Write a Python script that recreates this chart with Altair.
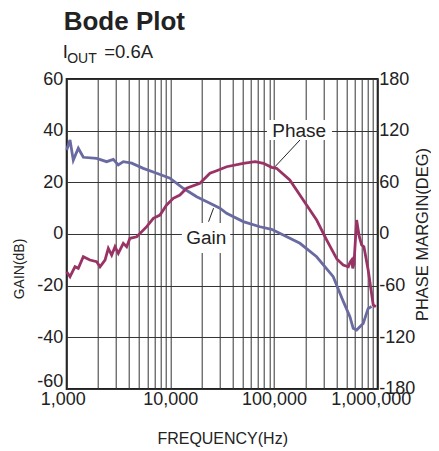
import altair as alt
import pandas as pd

# ---------------- data ----------------
gain_freq = [1000, 1076, 1158, 1294, 1446, 1946, 2431, 2814, 3144, 3515, 4236,
             5480, 7380, 9910, 13310, 17940, 24090, 30070, 34890, 50470, 73130,
             94830, 122700, 177800, 257600, 372400, 464700, 539500, 580300,
             626300, 724900, 809500, 873300]
gain_db = [32.5, 36.4, 28.6, 33.2, 29.7, 29.3, 28.0, 28.9, 26.7, 28.0, 27.4,
           25.4, 23.5, 21.6, 17.7, 14.4, 11.9, 10.0, 8.0, 4.8, 2.8,
           1.8, -0.4, -3.6, -8.8, -16.5, -26.0, -32.0, -36.5,
           -37.2, -34.6, -28.8, -28.1]

phase_freq = [1000, 1076, 1203, 1294, 1446, 1676, 1946, 2095, 2342, 2520, 2716,
              2926, 3144, 3515, 3789, 4077, 4736, 5913, 6851, 7935, 9210, 10670,
              12360, 14350, 19280, 24090, 27960, 34890, 50470, 65790, 79060,
              94830, 105700, 141900, 191300, 257600, 322400, 403400, 464700,
              521000, 540000, 561100, 575000, 590900, 626300, 664500, 700300,
              736400, 809500, 905600, 960000]
phase_deg = [-43.8, -49.6, -38.0, -39.9, -26.4, -30.2, -32.2, -38.0, -30.2, -16.6, -24.4,
             -14.8, -22.4, -10.8, -14.8, -5.0, -3.2, 8.5, 18.2, 22.0, 33.7, 41.4,
             45.3, 53.1, 58.9, 70.5, 73.5, 78.1, 82.1, 84.0, 82.1,
             77.4, 76.3, 62.7, 39.5, 16.2, -7.0, -29.0, -36.0,
             -38.0, -33.0, -30.2, -40.0, -34.0, 16.2, -3.2, -12.8,
             -14.8, -41.8, -82.5, -84.5]

freq_ticks = [1000, 2000, 3000, 4000, 5000, 6000, 7000, 8000, 9000,
              10000, 20000, 30000, 40000, 50000, 60000, 70000, 80000, 90000,
              100000, 200000, 300000, 400000, 500000, 600000, 700000, 800000, 900000,
              1000000]
freq_label_ticks = [1000, 10000, 100000, 1000000]
gain_ticks = [-60, -40, -20, 0, 20, 40, 60]
phase_ticks = [-180, -120, -60, 0, 60, 120, 180]

title_text = ["Bode Plot"]
sub_main = ["I"]
sub_script = ["OUT"]
sub_rest = ["=0.6A"]
gain_axis_title = ["GAIN(dB)"]

label_text = ["Phase", "Gain"]
label_freq = [175000, 22200]
label_gain = [39.7, -1.5]
box_f1 = [85500, 12900]
box_f2 = [363000, 37800]
box_g1 = [36.4, -7.4]
box_g2 = [44.1, 4.3]
lead_f1 = [178000, 23350]
lead_f2 = [102000, 26090]
lead_g1 = [36.4, 4.75]
lead_g2 = [26.0, 10.0]

# ---------------- tables ----------------
gain_df = pd.DataFrame({"f": gain_freq, "v": gain_db})
phase_df = pd.DataFrame({"f": phase_freq, "v": phase_deg})
lab_df = pd.DataFrame({"t": label_text, "f": label_freq, "g": label_gain})
box_df = pd.DataFrame({"f1": box_f1, "f2": box_f2, "g1": box_g1, "g2": box_g2})
lead_df = pd.DataFrame({"f1": lead_f1, "f2": lead_f2, "g1": lead_g1, "g2": lead_g2})

FONT = "Liberation Sans"
GAIN_C = "#6a6aa2"
PHASE_C = "#993366"
GRID_C = "#333333"

xscale = alt.Scale(type="log", domain=[1000, 1000000], nice=False)
gscale = alt.Scale(domain=[-60, 60], nice=False, zero=False)
pscale = alt.Scale(domain=[-180, 180], nice=False, zero=False)

lbl_list = "[" + ",".join(str(v) for v in freq_label_ticks) + "]"
x_axis = alt.Axis(
    values=freq_ticks,
    labelExpr=f"indexof({lbl_list}, datum.value) >= 0 ? format(datum.value, ',') : ''",
    grid=True, gridColor=GRID_C, gridWidth=1, gridOpacity=1,
    ticks=False, tickSize=0, domain=False, labelOverlap=False, labelFlush=False,
    labelOffset={"condition": [
        {"test": "datum.value == 1000000", "value": -7},
        {"test": "datum.value == 1000", "value": -4},
    ], "value": 0},
    labelFont=FONT, labelFontSize=18, labelColor="#222", labelPadding=2,
    title="FREQUENCY(Hz)", titleFont=FONT, titleFontSize=16,
    titleFontWeight="normal", titleColor="#222", titlePadding=22,
)
g_axis = alt.Axis(
    values=gain_ticks, labelExpr="'' + datum.value",
    grid=True, gridColor=GRID_C, gridWidth=1, gridOpacity=1,
    ticks=False, tickSize=0, domain=False, labelOverlap=False, labelFlush=False,
    labelOffset={"condition": {"test": "datum.value == -60", "value": -7}, "value": 0},
    labelFont=FONT, labelFontSize=18, labelColor="#222", labelPadding=4,
    title=None,
)
p_axis = alt.Axis(
    values=phase_ticks, labelExpr="'' + datum.value", orient="right",
    grid=False, ticks=False, tickSize=0, domain=False, labelOverlap=False,
    labelFlush=False,
    labelFont=FONT, labelFontSize=18, labelColor="#222", labelPadding=1,
    title="PHASE MARGIN(DEG)", titleFont=FONT, titleFontSize=16.5, titleAngle=270,
    titleBaseline="top",
    titleFontWeight="normal", titleColor="#222", titlePadding=0,
)

boxes = alt.Chart(box_df).mark_rect(color="white", opacity=1).encode(
    x=alt.X("f1:Q", scale=xscale, axis=x_axis), x2="f2:Q",
    y=alt.Y("g1:Q", scale=gscale, axis=g_axis), y2="g2:Q",
)
leads = alt.Chart(lead_df).mark_rule(color="#222", strokeWidth=1).encode(
    x=alt.X("f1:Q", scale=xscale, axis=x_axis), x2="f2:Q",
    y=alt.Y("g1:Q", scale=gscale, axis=g_axis), y2="g2:Q",
)
labels = alt.Chart(lab_df).mark_text(
    font=FONT, fontSize=19, color="#222", align="center", baseline="middle"
).encode(
    x=alt.X("f:Q", scale=xscale, axis=x_axis),
    y=alt.Y("g:Q", scale=gscale, axis=g_axis),
    text="t:N",
)

gain_line = alt.Chart(gain_df).mark_line(color=GAIN_C, strokeWidth=2.8).encode(
    x=alt.X("f:Q", scale=xscale, axis=x_axis),
    y=alt.Y("v:Q", scale=gscale, axis=g_axis),
)
phase_line = alt.Chart(phase_df).mark_line(color=PHASE_C, strokeWidth=2.8).encode(
    x=alt.X("f:Q", scale=xscale, axis=x_axis),
    y=alt.Y("v:Q", scale=pscale, axis=p_axis),
)

title = alt.Chart(pd.DataFrame({"t": title_text})).mark_text(
    font=FONT, fontSize=26, fontWeight="bold", color="#222",
    align="left", baseline="alphabetic"
).encode(x=alt.value(-3), y=alt.value(-49.5), text="t:N")
sub1 = alt.Chart(pd.DataFrame({"t": sub_main})).mark_text(
    font=FONT, fontSize=18.5, color="#222", align="left", baseline="alphabetic"
).encode(x=alt.value(-4), y=alt.value(-20.7), text="t:N")
sub2 = alt.Chart(pd.DataFrame({"t": sub_script})).mark_text(
    font=FONT, fontSize=14, color="#222", align="left", baseline="alphabetic"
).encode(x=alt.value(0.5), y=alt.value(-15.7), text="t:N")
sub3 = alt.Chart(pd.DataFrame({"t": sub_rest})).mark_text(
    font=FONT, fontSize=18.5, color="#222", align="left", baseline="alphabetic"
).encode(x=alt.value(37.5), y=alt.value(-20.7), text="t:N")
gtitle = alt.Chart(pd.DataFrame({"t": gain_axis_title})).mark_text(
    font=FONT, fontSize=14, color="#222", align="center", baseline="middle", angle=270
).encode(x=alt.value(-46.7), y=alt.value(190), text="t:N")

gain_group = alt.layer(boxes, leads, labels, gain_line, title, sub1, sub2, sub3, gtitle)
phase_group = alt.layer(phase_line)

chart = alt.layer(gain_group, phase_group).resolve_scale(
    y="independent"
).properties(
    width=311, height=310,
    autosize=alt.AutoSizeParams(type="none"),
    padding={"left": 58.7, "top": 71, "right": 53, "bottom": 62},
    background="white",
).configure_view(
    stroke="#222", strokeWidth=2
)

chart.save("out.html", embed_options={"renderer": "svg", "actions": False})
